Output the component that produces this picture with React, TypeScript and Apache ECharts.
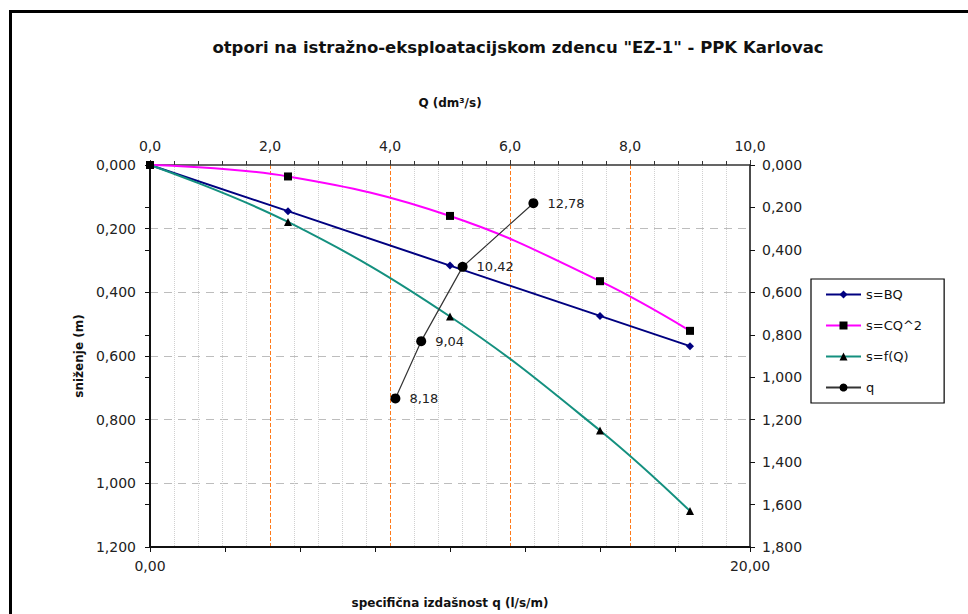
import React, { useEffect, useRef } from "react";
import * as echarts from "echarts";

const Q = [0, 2.3, 5.0, 7.5, 9.0];
const sBQ = [0, 0.145, 0.316, 0.474, 0.569];
const sCQ2 = [0, 0.036, 0.16, 0.365, 0.521];
const sFQ = [0, 0.179, 0.476, 0.834, 1.087];
const qSpec = [8.18, 9.04, 10.42, 12.78];
const sMeasured = [1.1, 0.83, 0.48, 0.18];

const TITLE = 'otpori na istražno-eksploatacijskom zdencu "EZ-1" - PPK Karlovac';
const FONT = "'DejaVu Sans', 'Liberation Sans', Arial, sans-serif";

const comma = (v: number, d: number) => v.toFixed(d).replace(".", ",");

export default function App() {
  const ref = useRef<HTMLDivElement>(null);
  useEffect(() => {
    if (!ref.current) return;
    const chart = echarts.init(ref.current, null, { renderer: "svg" });
    const axisText = { fontFamily: FONT, fontSize: 14, color: "#222" };
    const nameText = { fontFamily: FONT, fontSize: 12, fontWeight: "bold" as const, color: "#111" };
    chart.setOption({
      animation: false,
      backgroundColor: "#fff",
      textStyle: { fontFamily: FONT },
      grid: { left: 150, top: 165, width: 600, height: 383, containLabel: false },
      graphic: [
        {
          type: "rect",
          shape: { x: 10.5, y: 11.5, width: 1000, height: 700 },
          style: { fill: "none", stroke: "#000", lineWidth: 3 },
          silent: true,
        },
        {
          type: "text",
          x: 518,
          y: 47,
          style: {
            text: TITLE,
            align: "center",
            verticalAlign: "middle",
            fontFamily: FONT,
            fontSize: 16.5,
            fontWeight: "bold",
            fill: "#111",
          },
        },
      ],
      legend: {
        orient: "vertical",
        left: 811,
        top: 279,
        padding: [9, 22, 9, 14],
        itemGap: 18,
        itemWidth: 35,
        itemHeight: 10,
        borderColor: "#000",
        borderWidth: 1.2,
        textStyle: { fontFamily: FONT, fontSize: 13, color: "#111" },
        data: ["s=BQ", "s=CQ^2", "s=f(Q)", "q"],
      },
      xAxis: [
        {
          type: "value",
          position: "top",
          min: 0,
          max: 10,
          interval: 2,
          name: "Q (dm³/s)",
          nameLocation: "middle",
          nameGap: 56,
          nameTextStyle: nameText,
          axisLine: { show: true, onZero: false, lineStyle: { color: "#333", width: 1.5 } },
          axisTick: { show: true, inside: false, length: 5, lineStyle: { color: "#333" } },
          minorTick: { show: true, splitNumber: 5, length: 4, lineStyle: { color: "#333" } },
          axisLabel: { ...axisText, margin: 12, formatter: (v: number) => comma(v, 1) },
          splitLine: {
            show: true,
            showMinLine: false,
            showMaxLine: false,
            lineStyle: { color: "#ff7a1a", type: "dashed", width: 1 },
          },
          minorSplitLine: { show: true, lineStyle: { color: "#d0d0d0", type: "dotted", width: 1 } },
        },
        {
          type: "value",
          position: "bottom",
          min: 0,
          max: 20,
          interval: 20,
          name: "specifična izdašnost q (l/s/m)",
          nameLocation: "middle",
          nameGap: 50,
          nameTextStyle: nameText,
          axisLine: { show: true, onZero: false, lineStyle: { color: "#111", width: 2 } },
          axisTick: { show: true, inside: false, length: 5, lineStyle: { color: "#111" } },
          minorTick: { show: true, splitNumber: 8, length: 5, lineStyle: { color: "#111" } },
          axisLabel: { ...axisText, margin: 12, formatter: (v: number) => comma(v, 2) },
          splitLine: { show: false },
        },
      ],
      yAxis: [
        {
          type: "value",
          position: "left",
          inverse: true,
          min: 0,
          max: 1.2,
          interval: 0.2,
          name: "sniženje (m)",
          nameLocation: "middle",
          nameGap: 65,
          nameTextStyle: nameText,
          axisLine: { show: true, onZero: false, lineStyle: { color: "#111", width: 2 } },
          axisTick: { show: true, inside: false, length: 5, lineStyle: { color: "#111" } },
          axisLabel: { ...axisText, margin: 14, formatter: (v: number) => comma(v, 3) },
          splitLine: {
            show: true,
            showMinLine: false,
            showMaxLine: false,
            lineStyle: { color: "#bdbdbd", type: [8, 6], width: 1.2 },
          },
        },
        {
          type: "value",
          position: "right",
          inverse: true,
          min: 0,
          max: 1.8,
          interval: 0.2,
          axisLine: { show: true, onZero: false, lineStyle: { color: "#111", width: 1.5 } },
          axisTick: { show: true, inside: false, length: 5, lineStyle: { color: "#111" } },
          axisLabel: { ...axisText, margin: 12, formatter: (v: number) => comma(v, 3) },
          splitLine: { show: false },
        },
        {
          type: "value",
          position: "right",
          inverse: true,
          min: 0,
          max: 1.8,
          interval: 0.2,
          axisLine: { show: false },
          axisTick: { show: true, inside: true, length: 5, lineStyle: { color: "#111" } },
          axisLabel: { show: false },
          splitLine: { show: false },
        },
      ],
      series: [
        {
          name: "s=BQ",
          type: "line",
          xAxisIndex: 0,
          yAxisIndex: 0,
          data: Q.map((q, i) => [q, sBQ[i]]),
          symbol: "diamond",
          symbolSize: 8,
          itemStyle: { color: "#000080" },
          lineStyle: { color: "#000080", width: 2 },
        },
        {
          name: "s=CQ^2",
          type: "line",
          xAxisIndex: 0,
          yAxisIndex: 0,
          data: Q.map((q, i) => [q, sCQ2[i]]),
          smooth: 0.4,
          symbol: "rect",
          symbolSize: 8,
          itemStyle: { color: "#000" },
          lineStyle: { color: "#ff00ff", width: 2 },
        },
        {
          name: "s=f(Q)",
          type: "line",
          xAxisIndex: 0,
          yAxisIndex: 0,
          data: Q.map((q, i) => [q, sFQ[i]]),
          smooth: 0.4,
          symbol: "triangle",
          symbolSize: 8,
          itemStyle: { color: "#000" },
          lineStyle: { color: "#14907f", width: 2 },
        },
        {
          name: "q",
          type: "line",
          xAxisIndex: 1,
          yAxisIndex: 1,
          z: 5,
          data: qSpec.map((q, i) => [q, sMeasured[i]]),
          symbol: "circle",
          symbolSize: 10,
          itemStyle: { color: "#000" },
          lineStyle: { color: "#333", width: 1.2 },
          label: {
            show: true,
            position: "right",
            distance: 9,
            fontFamily: FONT,
            fontSize: 13,
            color: "#222",
            formatter: (p: any) => comma(p.value[0], 2),
          },
        },
      ],
    });
    return () => chart.dispose();
  }, []);
  return (
    <div
      ref={ref}
      style={{ position: "absolute", left: 0, top: 0, width: 968, height: 614 }}
    />
  );
}
